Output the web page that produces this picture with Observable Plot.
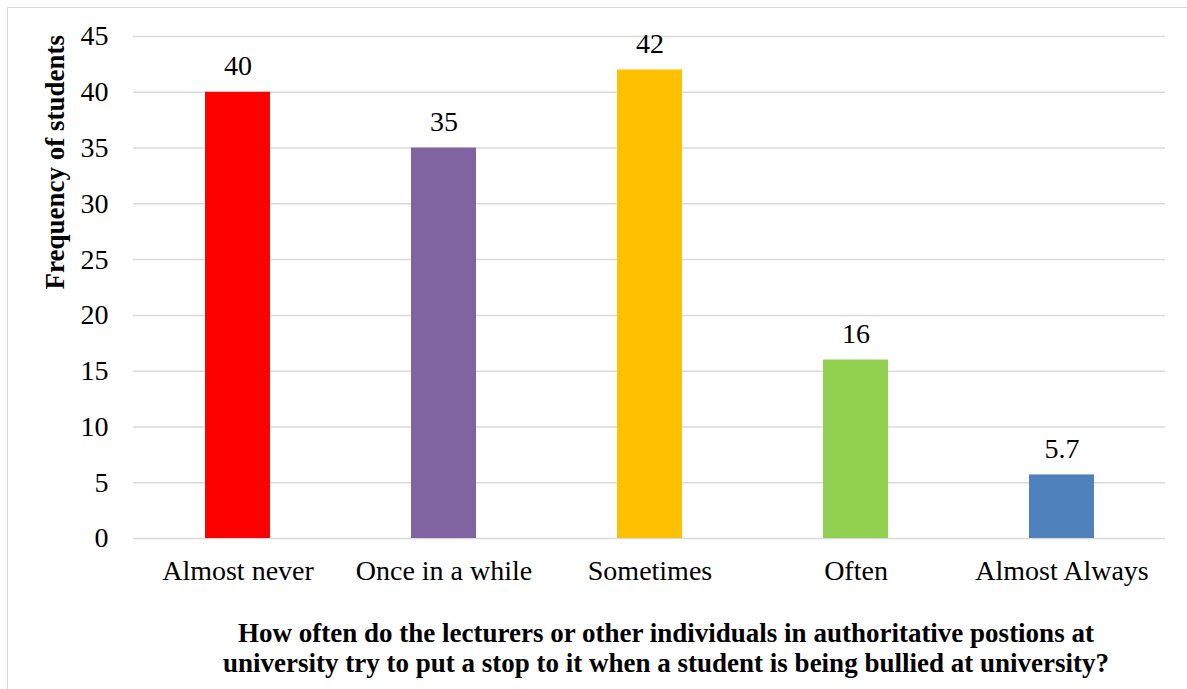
<!DOCTYPE html>
<html>
<head>
<meta charset="utf-8">
<script src="https://cdn.jsdelivr.net/npm/d3@7"></script>
<script src="https://cdn.jsdelivr.net/npm/@observablehq/plot@0.6"></script>
<style>
  html, body { margin: 0; padding: 0; background: #fff; }
  #chart svg { display: block; }
  #xtitle { margin-top: 18px; padding-left: 145px; box-sizing: border-box; width: 1187px;
            text-align: center; font-family: "Liberation Serif", "Times New Roman", serif;
            font-weight: bold; font-size: 27px; line-height: 30px; color: #000; white-space: pre; }
  #border { position: fixed; left: 7px; top: 7px; right: -20px; bottom: -20px;
            border: 1px solid #d9d9d9; pointer-events: none; }
</style>
</head>
<body>
<div id="chart"></div>
<div id="xtitle"></div>
<div id="border"></div>
<script>
// Responses to the survey question and their frequencies
const categories = ["Almost never", "Once in a while", "Sometimes", "Often", "Almost Always"];
const frequencies = [40, 35, 42, 16, 5.7];
const barColors = ["#FF0000", "#8064A2", "#FFC000", "#92D050", "#4F81BD"];
const yTicks = [0, 5, 10, 15, 20, 25, 30, 35, 40, 45];
const yLabel = "Frequency of students";
const xTitle = "How often do the lecturers or other individuals in authoritative postions at\nuniversity try to put a stop to it when a student is being bullied at university?";

const rows = categories.map((c, i) => ({category: c, value: frequencies[i], color: barColors[i]}));

const face = "Liberation Serif";

const chart = Plot.plot({
  width: 1187,
  height: 600,
  marginLeft: 133,
  marginRight: 22,
  marginTop: 36,
  marginBottom: 62,
  style: {fontFamily: face, background: "transparent"},
  x: {domain: categories, paddingInner: 0.685, paddingOuter: 0.3425, label: null},
  y: {domain: [0, 45], label: null},
  color: {type: "identity"},
  marks: [
    Plot.gridY(yTicks, {stroke: "#d9d9d9", strokeOpacity: 1, strokeWidth: 1.5}),
    Plot.barY(rows, {x: "category", y: "value", fill: "color"}),
    Plot.text(rows, {
      x: "category", y: "value", text: d => String(d.value),
      lineAnchor: "bottom", dy: -17, fontSize: 28, fontFamily: face, fill: "#000"
    }),
    Plot.axisY(yTicks, {tickSize: 0, tickPadding: 25, fontSize: 28, fontFamily: face, label: null, fill: "#000"}),
    Plot.axisX({tickSize: 0, tickPadding: 22, fontSize: 28, fontFamily: face, label: null, fill: "#000"}),
    Plot.text([yLabel], {
      frameAnchor: "left", rotate: -90, lineAnchor: "bottom",
      dx: -70, dy: 2, fontSize: 27, fontWeight: "bold", fontFamily: face, fill: "#000"
    })
  ]
});

document.getElementById("chart").appendChild(chart);
// Axis title for the categories, set below the plot
document.getElementById("xtitle").textContent = xTitle;
</script>
</body>
</html>
